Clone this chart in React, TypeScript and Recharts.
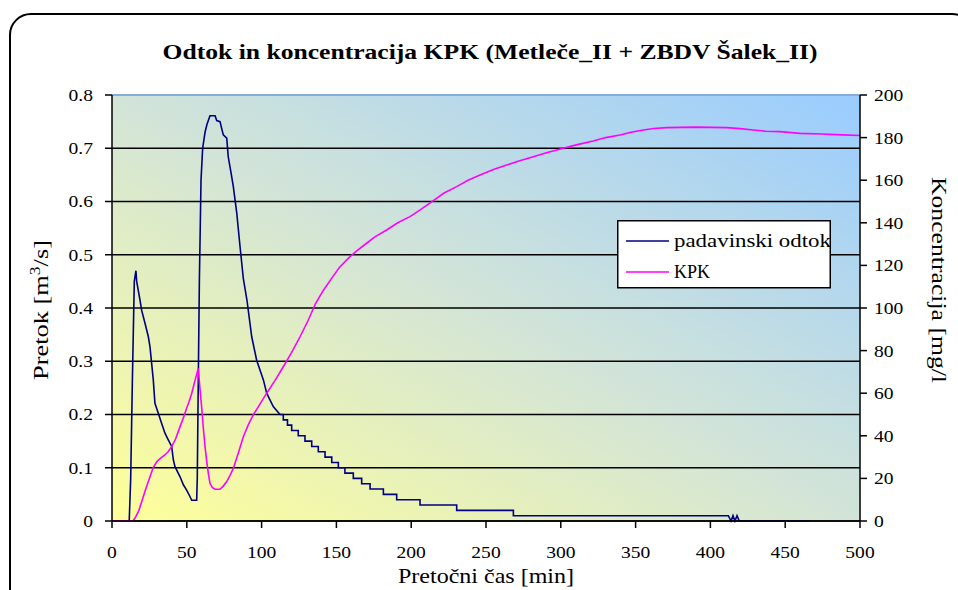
import { LineChart, Line, XAxis, YAxis, CartesianGrid, ReferenceLine, Legend } from "recharts";

const FONT = "'Liberation Serif', 'Times New Roman', Tinos, 'DejaVu Serif', serif";

// padavinski odtok [m3/s] vs. time [min] – rising limbs and the two peaks
const runoffHead: [number, number][] = [
  [0, 0], [11.5, 0], [12.5, 0.08], [13.6, 0.26], [14.9, 0.45], [16, 0.47], [16.5, 0.45],
  [18.7, 0.415], [19.8, 0.396], [22.1, 0.371], [24.3, 0.346], [25.4, 0.327], [26.5, 0.296],
  [27.6, 0.265], [28.7, 0.221], [31, 0.202], [33.2, 0.183], [35.4, 0.165], [37.7, 0.152],
  [39.9, 0.14], [41, 0.115], [42.1, 0.102], [45.5, 0.083], [47.7, 0.068], [49.9, 0.058],
  [52.1, 0.046], [53.3, 0.039], [56.6, 0.039], [57, 0.08], [57.7, 0.27], [58.4, 0.45],
  [59.5, 0.64], [60.6, 0.7], [62.2, 0.73], [63.5, 0.745], [64.4, 0.752], [65.5, 0.761],
  [68.9, 0.761], [70, 0.752], [72.2, 0.75], [73.5, 0.735], [74.4, 0.725], [76.7, 0.719],
  [77.7, 0.684], [79.5, 0.655], [81.1, 0.628], [83.4, 0.578], [85.6, 0.515], [87.8, 0.455],
  [90.2, 0.415], [93.4, 0.346], [96.7, 0.302], [101.2, 0.265], [103.4, 0.24], [107.8, 0.215],
  [112.3, 0.2],
];

// recession: the logged flow drops by 0.01 at these times
const runoffStepTimes = [
  114.5, 117.3, 120.1, 124.5, 129.0, 133.5, 137.9, 142.4, 146.9, 151.3, 155.7, 161.3,
  166.9, 172.5, 181.4, 190.3, 205.9, 230.4, 268.3,
];
const runoffStepLevels = [
  0.19, 0.18, 0.17, 0.16, 0.15, 0.14, 0.13, 0.12, 0.11, 0.1, 0.09, 0.08,
  0.07, 0.06, 0.05, 0.04, 0.03, 0.02, 0.01,
];

const runoffTail: [number, number][] = [
  [412, 0.01], [413.8, 0], [415.1, 0.01], [416.4, 0], [417.8, 0.01], [419.3, 0], [466, 0],
];

// KPK [mg/l]
const kpk: [number, number][] = [
  [0, 0], [14, 0], [15.4, 1.4], [18, 5], [20.9, 11.4], [23, 16], [25.4, 20.8], [27.5, 25],
  [29.9, 27.8], [32.5, 29.5], [35.4, 31], [37.5, 32.5], [39.9, 34.9], [42.5, 38.5],
  [45.5, 44.3], [48, 49], [49.9, 52.9], [51.5, 56], [53.3, 60], [55.5, 66], [57.7, 71.7],
  [58.8, 62], [59.9, 53.7], [61, 44], [62.2, 34.9], [63.3, 28], [64.4, 22.4], [65.5, 17.7],
  [67, 15.8], [68.9, 14.9], [72.2, 14.9], [74.5, 16.5], [76.7, 18.5], [79, 21.5],
  [81.1, 24.7], [84.5, 32], [87.8, 39.6], [91, 45], [94.4, 49.8], [99, 55], [103.4, 60],
  [109, 66], [114.5, 72.4], [120, 79], [125.7, 86.5], [131, 94], [136, 102], [141, 108],
  [146.8, 113.9], [152, 119], [159.1, 124.1], [164, 127], [170.2, 130.4], [176, 133.5],
  [183.6, 136.6], [191, 140], [199.2, 142.9], [207, 146.5], [214.8, 150.4], [222, 154],
  [230.4, 157], [238, 160], [246, 162.4], [255, 165], [263.8, 167.1], [272, 169],
  [281.6, 171], [291, 173], [301.7, 175], [311, 176.7], [321.7, 178.4], [330, 180],
  [339.6, 181.2], [347, 182.5], [355.2, 183.6], [362, 184.3], [370.8, 184.7], [390, 184.9],
  [410.9, 184.7], [420, 184.2], [428.7, 183.6], [437, 183], [446.5, 182.8], [459.9, 182],
  [474.4, 181.7], [488, 181.3], [500, 181],
];

const xTicks = [0, 50, 100, 150, 200, 250, 300, 350, 400, 450, 500];
const flowTicks = [0, 0.1, 0.2, 0.3, 0.4, 0.5, 0.6, 0.7, 0.8];
const concTicks = [0, 20, 40, 60, 80, 100, 120, 140, 160, 180, 200];
const seriesNames = ["padavinski odtok", "KPK"];

function buildRunoff() {
  const pts = runoffHead.map(([t, q]) => ({ t, q }));
  let level = runoffHead[runoffHead.length - 1][1];
  runoffStepTimes.forEach((t, i) => {
    pts.push({ t, q: level });
    level = runoffStepLevels[i];
    pts.push({ t, q: level });
  });
  runoffTail.forEach(([t, q]) => pts.push({ t, q }));
  return pts;
}

const runoffData = buildRunoff();
const kpkData = kpk.map(([t, c]) => ({ t, c }));

const textStyle = { fontFamily: FONT, fontSize: 17, fill: "#000" };

function LeftTick({ x, y, payload }: any) {
  const v = payload.value;
  return (
    <text transform={`translate(${x},${y}) scale(1.15,1)`} textAnchor="end" dy="0.35em" style={textStyle}>
      {v === 0 ? "0" : v.toFixed(1)}
    </text>
  );
}

function RightTick({ x, y, payload }: any) {
  return (
    <text transform={`translate(${x},${y}) scale(1.15,1)`} textAnchor="start" dy="0.35em" style={textStyle}>
      {payload.value}
    </text>
  );
}

function BottomTick({ x, y, payload }: any) {
  return (
    <text transform={`translate(${x},${y}) scale(1.15,1)`} textAnchor="middle" dy="0.71em" style={textStyle}>
      {payload.value}
    </text>
  );
}

function LegendBox({ payload }: any) {
  const items = [...(payload || [])].sort(
    (a: any, b: any) => seriesNames.indexOf(a.value) - seriesNames.indexOf(b.value)
  );
  return (
    <svg width={215} height={69} style={{ display: "block", overflow: "visible" }}>
      <rect x={0.75} y={0.75} width={212.5} height={67} fill="#fff" stroke="#000" strokeWidth={1.5} />
      {items.map((p: any, i: number) => (
        <g key={p.value} transform={`translate(0,${21 + i * 31})`}>
          <line x1={9} x2={52} y1={0} y2={0} stroke={p.color} strokeWidth={1.5} />
          <text
            x={57}
            y={6}
            style={{ ...textStyle, fontSize: 18 }}
            textLength={p.value === "KPK" ? 36 : 157}
            lengthAdjust="spacingAndGlyphs"
          >
            {p.value}
          </text>
        </g>
      ))}
    </svg>
  );
}

export default function App() {
  return (
    <div style={{ position: "absolute", left: 0, top: 0, width: 958, height: 590, overflow: "hidden", background: "#fff" }}>
      <div
        style={{
          position: "absolute",
          left: 9,
          top: 13,
          width: 965,
          height: 600,
          border: "2px solid #000",
          borderRadius: 22,
          boxSizing: "border-box",
        }}
      />
      <div style={{ position: "absolute", left: 0, top: 0 }}>
        <LineChart width={958} height={590} margin={{ top: 95, right: 38, bottom: 29, left: 52 }}>
          <defs>
            <linearGradient id="plotBg" x1="0" y1="1" x2="1" y2="0">
              <stop offset="0%" stopColor="#ffff99" />
              <stop offset="50%" stopColor="#d2e4d8" />
              <stop offset="100%" stopColor="#99ccff" />
            </linearGradient>
          </defs>
          <CartesianGrid
            yAxisId="flow"
            vertical={false}
            stroke="#000"
            strokeWidth={1.5}
            fill="url(#plotBg)"
            fillOpacity={1}
          />
          <XAxis
            dataKey="t"
            type="number"
            domain={[0, 500]}
            ticks={xTicks}
            allowDuplicatedCategory={false}
            height={40}
            tickSize={7}
            tickMargin={18}
            axisLine={{ stroke: "#000", strokeWidth: 1.5 }}
            tickLine={{ stroke: "#000", strokeWidth: 1.5 }}
            tick={<BottomTick />}
            interval={0}
          />
          <YAxis
            yAxisId="flow"
            orientation="left"
            domain={[0, 0.8]}
            ticks={flowTicks}
            width={60}
            tickSize={7}
            tickMargin={12}
            axisLine={{ stroke: "#000", strokeWidth: 1.5 }}
            tickLine={{ stroke: "#000", strokeWidth: 1.5 }}
            tick={<LeftTick />}
            interval={0}
          />
          <YAxis
            yAxisId="conc"
            orientation="right"
            domain={[0, 200]}
            ticks={concTicks}
            width={60}
            tickSize={7}
            tickMargin={7}
            axisLine={{ stroke: "#000", strokeWidth: 1.5 }}
            tickLine={{ stroke: "#000", strokeWidth: 1.5 }}
            tick={<RightTick />}
            interval={0}
          />
          <ReferenceLine yAxisId="flow" y={0.8} stroke="#86acd9" strokeWidth={2} />
          <Line
            yAxisId="flow"
            data={runoffData}
            dataKey="q"
            name="padavinski odtok"
            type="linear"
            stroke="#000080"
            strokeWidth={1.6}
            dot={false}
            isAnimationActive={false}
          />
          <Line
            yAxisId="conc"
            data={kpkData}
            dataKey="c"
            name="KPK"
            type="linear"
            stroke="#ff00ff"
            strokeWidth={1.6}
            dot={false}
            isAnimationActive={false}
          />
          <Legend
            layout="horizontal"
            verticalAlign="middle"
            align="center"
            content={<LegendBox />}
            wrapperStyle={{ left: 617, top: 220, width: 215, height: 69 }}
          />
        </LineChart>
      </div>
      <svg width={958} height={590} style={{ position: "absolute", left: 0, top: 0, pointerEvents: "none" }}>
        <text
          x={490}
          y={59}
          textAnchor="middle"
          style={{ fontFamily: FONT, fontSize: 22, fontWeight: "bold" }}
          textLength={655}
          lengthAdjust="spacingAndGlyphs"
        >
          Odtok in koncentracija KPK (Metleče_II + ZBDV Šalek_II)
        </text>
        <text
          transform="translate(48,310) rotate(-90)"
          textAnchor="middle"
          style={{ fontFamily: FONT, fontSize: 21 }}
          textLength={140}
          lengthAdjust="spacingAndGlyphs"
        >
          Pretok [m<tspan dy={-8} style={{ fontSize: 14 }}>3</tspan>
          <tspan dy={8}>/s]</tspan>
        </text>
        <text
          transform="translate(932,280) rotate(90)"
          textAnchor="middle"
          style={{ fontFamily: FONT, fontSize: 21 }}
          textLength={206}
          lengthAdjust="spacingAndGlyphs"
        >
          Koncentracija [mg/l
        </text>
        <text
          x={486}
          y={583}
          textAnchor="middle"
          style={{ fontFamily: FONT, fontSize: 21 }}
          textLength={176}
          lengthAdjust="spacingAndGlyphs"
        >
          Pretočni čas [min]
        </text>
      </svg>
    </div>
  );
}
